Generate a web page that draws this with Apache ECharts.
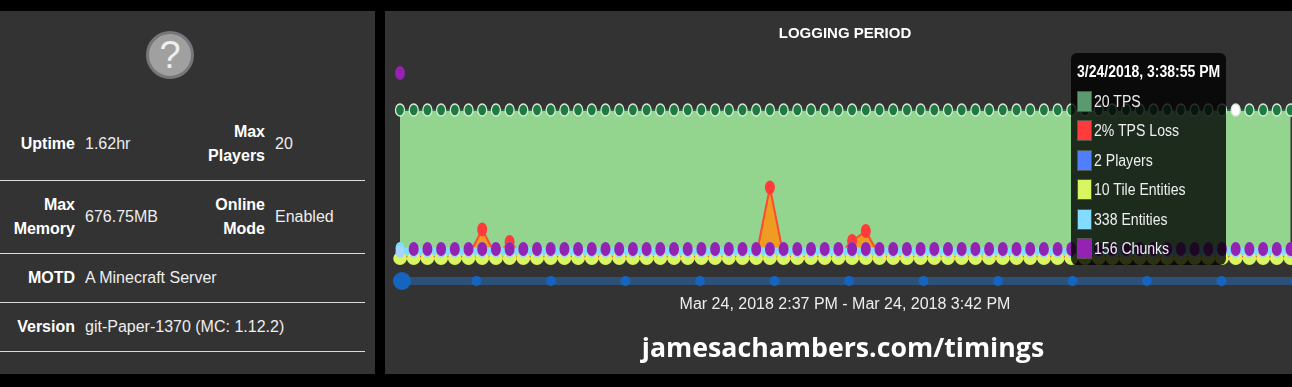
<!DOCTYPE html>
<html>
<head>
<meta charset="utf-8">
<title>Logging period</title>
<script src="https://cdn.jsdelivr.net/npm/echarts@6/dist/echarts.min.js"></script>
<style>
  html, body { margin: 0; padding: 0; background: #000; overflow: hidden; }
  body { width: 1292px; height: 387px; position: relative; font-family: "Liberation Sans", Arial, sans-serif; }
  #info { position: absolute; left: 0; top: 11px; width: 375px; height: 363px; background: #333; color: #eee; }
  #icon { position: absolute; left: 146px; top: 20px; width: 42px; height: 42px; border: 3px solid #777; border-radius: 50%;
    background: #a0a0a0; color: #eee; font-size: 38px; line-height: 42px; text-align: center; }
  #info table { position: absolute; left: 0; top: 97px; width: 365px; border-collapse: collapse; table-layout: fixed; font-size: 16px; line-height: 24px; }
  #info td { padding: 0 0 0 10px; border-bottom: 1px solid #ddd; }
  #info td.k { padding: 0; text-align: right; font-weight: bold; color: #fff; }
  #chart { position: absolute; left: 385px; top: 11px; width: 907px; height: 363px; background: #333; }
</style>
</head>
<body>
<div id="info">
  <div id="icon">?</div>
  <table>
    <colgroup><col style="width:75px"><col style="width:115px"><col style="width:75px"><col></colgroup>
    <tr style="height:72px"><td class="k">Uptime</td><td>1.62hr</td><td class="k">Max<br>Players</td><td>20</td></tr>
    <tr style="height:73px"><td class="k">Max<br>Memory</td><td>676.75MB</td><td class="k">Online<br>Mode</td><td>Enabled</td></tr>
    <tr style="height:49px"><td class="k">MOTD</td><td colspan="3">A Minecraft Server</td></tr>
    <tr style="height:49px"><td class="k">Version</td><td colspan="3">git-Paper-1370 (MC: 1.12.2)</td></tr>
  </table>
</div>
<div id="chart"></div>
<script>
// one sample per minute, 2:37:55 PM to 3:42:55 PM
var times = [];
for (var m = 37; m < 103; m++) {
  var h = m < 60 ? 2 : 3;
  var mm = m < 60 ? m : m - 60;
  times.push('3/24/2018, ' + h + ':' + (mm < 10 ? '0' : '') + mm + ':55 PM');
}

var tps = [20,20,20,20,20,20,20,20,20,20,20,20,20,20,20,20,20,20,20,20,20,20,
  20,20,20,20,20,20,20,20,20,20,20,20,20,20,20,20,20,20,20,20,20,20,
  20,20,20,20,20,20,20,20,20,20,20,20,20,20,20,20,20,20,20,20,20,20];
var tpsLoss = [2,2,2,2,2,2,15.3,2,9,2,2,2,2,2,2,2,2,2,2,2,2,2,
  2,2,2,2,2,36.3,2,2,2,2,2,9.5,14.5,2,2,2,2,2,2,2,3,2,2,2,2,2,
  2,2,2,2,2,2,2,2,2,2,2,2,2,2,2,2,2,2];
var players = [2,2,2,2,2,2,2,2,2,2,2,2,2,2,2,2,2,2,2,2,2,2,
  2,2,2,2,2,2,2,2,2,2,2,2,2,2,2,2,2,2,2,2,2,2,
  2,2,2,2,2,2,2,2,2,2,2,2,2,2,2,2,2,2,2,2,2,2];
var tileEntities = [10,10,10,10,10,10,10,10,10,10,10,10,10,10,10,10,10,10,10,10,10,10,
  10,10,10,10,10,10,10,10,10,10,10,10,10,10,10,10,10,10,10,10,10,10,
  10,10,10,10,10,10,10,10,10,10,10,10,10,10,10,10,10,10,10,10,10,10];
var entities = [338,338,338,338,338,338,338,338,338,338,338,338,338,338,338,338,338,338,338,338,338,338,
  338,338,338,338,338,338,338,338,338,338,338,338,338,338,338,338,338,338,338,338,338,338,
  338,338,338,338,338,338,338,338,338,338,338,338,338,338,338,338,338,338,338,338,338,338];
var chunks = [2652,156,156,156,156,156,156,156,156,156,156,156,156,156,156,156,156,156,156,156,156,156,
  156,156,156,156,156,156,156,156,156,156,156,156,156,156,156,156,156,156,156,156,156,156,
  156,156,156,156,156,156,156,156,156,156,156,156,156,156,156,156,156,156,156,156,156,156];

// slider under the plot
var sliderStops = ['0','1','2','3','4','5','6','7','8','9','10','11','12'];
var sliderValues = [0,0,0,0,0,0,0,0,0,0,0,0,0];

var pickedIndex = 61;

var tipRows = [
  { label: ' TPS', color: '#5a9a6e', values: tps },
  { label: '% TPS Loss', color: '#ff3b3b', values: tpsLoss },
  { label: ' Players', color: '#4f7fff', values: players },
  { label: ' Tile Entities', color: '#d9f55f', values: tileEntities },
  { label: ' Entities', color: '#82dcff', values: entities },
  { label: ' Chunks', color: '#9323b0', values: chunks }
];

function tipHtml (params) {
  var i = params[0].dataIndex;
  var html = '<div style="position:absolute;left:6px;top:9px;font:bold 16px/20px \'Liberation Sans\';color:#fff;white-space:nowrap;transform:scaleX(0.875);transform-origin:0 0;">' + times[i] + '</div>';
  for (var r = 0; r < tipRows.length; r++) {
    var top = 38 + r * 29.4;
    html += '<div style="position:absolute;left:6px;top:' + top + 'px;width:13px;height:19px;background:' + tipRows[r].color + ';border:1px solid #555;"></div>';
    html += '<div style="position:absolute;left:23px;top:' + top + 'px;font:16px/21px \'Liberation Sans\';color:#eee;white-space:nowrap;transform:scaleX(0.88);transform-origin:0 0;">' + tipRows[r].values[i] + tipRows[r].label + '</div>';
  }
  return html;
}

var myChart = echarts.init(document.getElementById('chart'));

var option = {
  animation: false,
  backgroundColor: '#333',
  title: [{
    text: 'LOGGING PERIOD',
    left: 455, top: 10, textAlign: 'center',
    textStyle: { color: '#fff', fontSize: 15, fontWeight: 'bold', fontFamily: 'Liberation Sans' }
  }, {
    text: 'Mar 24, 2018 2:37 PM - Mar 24, 2018 3:42 PM',
    left: 455, top: 281, textAlign: 'center',
    textStyle: { color: '#eee', fontSize: 16, fontWeight: 'normal', fontFamily: 'Liberation Sans' }
  }, {
    text: 'jamesachambers.com/timings',
    left: 453, top: 320, textAlign: 'center',
    textStyle: { color: '#fff', fontSize: 26.7, fontWeight: 'bold', fontFamily: 'Open Sans' }
  }],
  tooltip: {
    trigger: 'axis',
    triggerOn: 'none',
    alwaysShowContent: true,
    transitionDuration: 0,
    axisPointer: { type: 'none' },
    backgroundColor: 'rgba(0,0,0,0.8)',
    borderWidth: 0,
    padding: 0,
    extraCssText: 'width:155px;height:212px;border-radius:6px;box-shadow:none;',
    position: function () { return [686, 42]; },
    formatter: tipHtml
  },
  grid: [
    { left: 15, top: 39, width: 890.5, height: 210, outerBoundsMode: 'none' },
    { left: 17, top: 265, width: 894, height: 10, outerBoundsMode: 'none' }
  ],
  xAxis: [
    { type: 'category', gridIndex: 0, data: times, boundaryGap: false, show: false, axisPointer: { triggerEmphasis: false } },
    { type: 'category', gridIndex: 1, data: sliderStops, boundaryGap: false, show: false, axisPointer: { triggerEmphasis: false } }
  ],
  yAxis: [
    { type: 'value', gridIndex: 0, min: 0, max: 28, show: false },
    { type: 'value', gridIndex: 0, min: 0, max: 105, show: false },
    { type: 'value', gridIndex: 0, min: 0, max: 52.5, show: false },
    { type: 'value', gridIndex: 0, min: 0, max: 2978, show: false },
    { type: 'value', gridIndex: 0, min: 0, max: 5900, show: false },
    { type: 'value', gridIndex: 0, min: 0, max: 1400, show: false },
    { type: 'value', gridIndex: 1, min: -1, max: 1, show: false }
  ],
  series: [{
    name: 'TPS', type: 'line', yAxisIndex: 0, data: tps, z: 2,
    showAllSymbol: true, symbol: 'circle', symbolSize: [9, 12],
    lineStyle: { color: '#1b6e3a', width: 2 },
    areaStyle: { color: '#93d58f', opacity: 1 },
    itemStyle: {
      color: function (p) { return p.dataIndex === pickedIndex ? '#fff' : '#1e7a40'; },
      borderColor: '#d8ead8', borderWidth: 1.5
    }
  }, {
    name: 'TPS Loss', type: 'line', yAxisIndex: 1, data: tpsLoss, z: 3,
    showAllSymbol: true, symbol: 'circle', symbolSize: [10, 14],
    lineStyle: { color: '#ff4a30', width: 2 },
    areaStyle: { color: '#ef9c22', opacity: 1 },
    itemStyle: { color: '#ff3b3b' }
  }, {
    name: 'Entities', type: 'line', yAxisIndex: 4, data: entities, z: 4,
    showAllSymbol: true, symbol: 'circle', symbolSize: [9, 12],
    lineStyle: { color: '#82dcff', width: 1 },
    areaStyle: { color: '#82dcff', opacity: 1, origin: 112 },
    itemStyle: { color: '#82dcff' }
  }, {
    name: 'Tile Entities', type: 'line', yAxisIndex: 5, data: tileEntities, z: 5,
    showAllSymbol: true, symbol: 'circle', symbolSize: [13.5, 13],
    lineStyle: { width: 0 },
    itemStyle: { color: '#d9f55f' }
  }, {
    name: 'Players', type: 'line', yAxisIndex: 2, data: players, z: 6,
    showAllSymbol: true, symbol: 'circle', symbolSize: [9, 12],
    lineStyle: { width: 0 },
    itemStyle: { color: '#a4d4ff' }
  }, {
    name: 'Chunks', type: 'line', yAxisIndex: 3, data: chunks, z: 7,
    showAllSymbol: true, symbol: 'circle', symbolSize: [10, 14],
    lineStyle: { width: 0 },
    itemStyle: { color: '#9323b0' }
  }, {
    name: 'slider', type: 'line', xAxisIndex: 1, yAxisIndex: 6, data: sliderValues, z: 2,
    showAllSymbol: true, symbol: 'circle',
    symbolSize: function (v, p) { return p.dataIndex === 0 ? 18 : 10; },
    lineStyle: { color: '#2c5078', width: 8 },
    itemStyle: { color: '#1565c0' },
    tooltip: { show: false }
  }]
};

myChart.setOption(option);
myChart.dispatchAction({ type: 'showTip', seriesIndex: 0, dataIndex: pickedIndex });
window.addEventListener('resize', function () {
  myChart.resize();
});
</script>
</body>
</html>
